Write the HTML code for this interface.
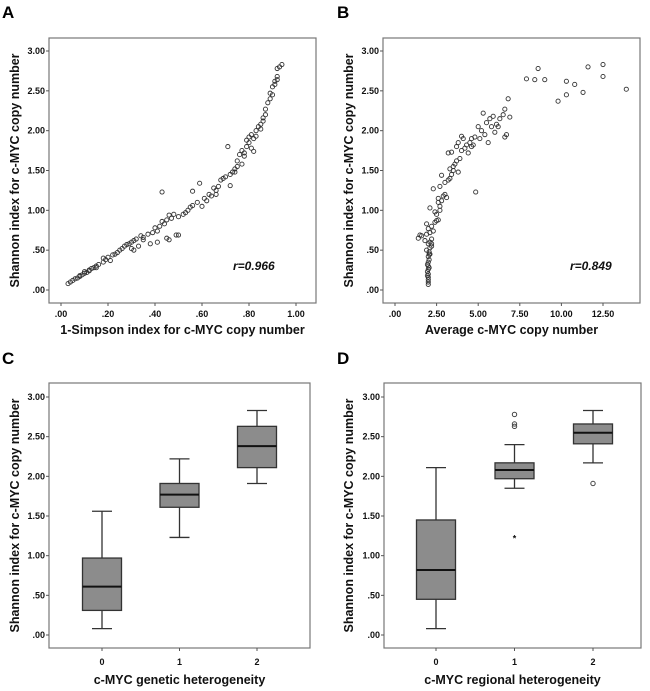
<!DOCTYPE html>
<html><head><meta charset="utf-8">
<style>
html,body{margin:0;padding:0;background:#fff;}
svg{display:block;font-family:"Liberation Sans",Arial,sans-serif;}
.tick{font-size:9px;font-weight:bold;fill:#111;}
.title{font-size:12.5px;font-weight:bold;fill:#111;}
.plab{font-size:17px;font-weight:bold;fill:#000;}
</style></head>
<body>
<svg id="fig" width="650" height="691" viewBox="0 0 650 691" xmlns="http://www.w3.org/2000/svg"></svg>
<script>
const yTicks=[0,0.5,1,1.5,2,2.5,3];
const yTickLabels=[".00",".50","1.00","1.50","2.00","2.50","3.00"];
const aXTicks=[0,0.2,0.4,0.6,0.8,1.0];
const aXTickLabels=[".00",".20",".40",".60",".80","1.00"];
const bXTicks=[0,2.5,5,7.5,10,12.5];
const bXTickLabels=[".00","2.50","5.00","7.50","10.00","12.50"];
const aX=[.03,.04,.05,.06,.07,.08,.09,.10,.10,.11,.12,.13,.14,.15,.16,.18,.19,.20,.18,.21,.23,.24,.25,.26,.27,.28,.29,.30,.31,.32,.30,.31,.33,.34,.35,.37,.38,.40,.41,.42,.43,.44,.45,.46,.47,.48,.45,.46,.41,.49,.50,.43,.50,.52,.54,.55,.56,.58,.59,.56,.60,.61,.62,.63,.64,.65,.66,.67,.68,.69,.70,.71,.72,.72,.73,.74,.75,.75,.76,.77,.77,.78,.79,.79,.80,.80,.81,.81,.82,.83,.83,.84,.85,.85,.86,.86,.87,.87,.88,.89,.89,.90,.90,.91,.91,.92,.92,.92,.93,.94,.82,.78,.74,.66,.53,.39,.35,.22,.15,.12,.08];
const aY=[.08,.10,.12,.14,.15,.17,.19,.21,.23,.22,.25,.27,.28,.30,.32,.35,.38,.41,.40,.37,.45,.47,.50,.52,.55,.57,.58,.60,.62,.64,.52,.50,.55,.68,.66,.70,.58,.78,.74,.80,.86,.83,.88,.94,.90,.95,.65,.63,.60,.69,.69,1.23,.92,.95,1.00,1.04,1.06,1.10,1.34,1.24,1.05,1.15,1.12,1.20,1.18,1.28,1.25,1.30,1.38,1.40,1.42,1.80,1.31,1.45,1.48,1.52,1.55,1.62,1.70,1.58,1.75,1.68,1.80,1.88,1.85,1.92,1.78,1.95,1.90,2.00,1.93,2.05,2.08,2.02,2.12,2.16,2.20,2.27,2.35,2.40,2.47,2.45,2.55,2.58,2.62,2.64,2.68,2.78,2.80,2.83,1.74,1.72,1.48,1.20,.97,.72,.63,.44,.28,.24,.18];
const bX=[2.0,2.0,2.0,2.0,2.0,1.95,2.0,2.05,1.95,2.0,2.05,2.0,2.1,2.05,1.9,2.1,2.2,2.0,2.1,1.8,2.2,1.4,1.6,1.5,1.9,2.1,2.3,2.0,2.2,1.9,2.4,2.5,2.1,2.6,2.5,2.7,2.7,2.3,2.6,2.8,2.9,3.0,2.7,3.1,3.0,3.2,2.8,3.3,3.4,3.2,3.5,3.5,3.6,3.7,3.8,3.9,3.4,3.7,3.8,4.0,4.1,4.2,4.3,4.0,4.4,4.5,4.6,4.8,4.6,4.85,5.0,5.1,5.2,5.3,5.4,5.5,5.6,5.7,5.8,5.9,6.0,6.1,6.2,6.3,6.5,6.6,6.7,6.6,6.8,6.9,7.9,8.4,8.6,9.0,9.8,10.3,10.3,10.8,11.3,11.6,12.5,12.5,13.9,4.7,3.3,2.6,2.4,2.2,2.05,2.0,1.95];
const bY=[.07,.10,.13,.16,.20,.23,.26,.28,.32,.35,.38,.42,.45,.48,.50,.53,.55,.58,.60,.62,.64,.65,.68,.69,.70,.72,.74,.77,.80,.83,.85,.87,1.03,.88,.95,1.00,1.05,1.27,1.10,1.12,1.18,1.20,1.30,1.16,1.35,1.38,1.44,1.40,1.45,1.72,1.50,1.55,1.58,1.62,1.48,1.65,1.73,1.80,1.85,1.75,1.90,1.78,1.82,1.93,1.72,1.85,1.80,1.92,1.90,1.23,2.05,1.90,2.00,2.22,1.95,2.10,1.85,2.15,2.05,2.18,1.98,2.08,2.05,2.15,2.20,1.92,1.95,2.27,2.40,2.17,2.65,2.64,2.78,2.64,2.37,2.45,2.62,2.58,2.48,2.80,2.83,2.68,2.52,1.82,1.52,1.15,.98,.58,.45,.30,.18];
const boxCats=["0","1","2"];
const cMin=[.08,1.23,1.91], cQ1=[.31,1.61,2.11], cMed=[.61,1.77,2.38], cQ3=[.97,1.91,2.63], cMax=[1.56,2.22,2.83];
const dMin=[.08,1.85,2.17], dQ1=[.45,1.97,2.41], dMed=[.82,2.08,2.55], dQ3=[1.45,2.17,2.66], dMax=[2.11,2.40,2.83];
const dOutCat=[1,1,1,2], dOutVal=[2.78,2.66,2.63,1.91];
const dExtCat=[1], dExtVal=[1.23];

const NS="http://www.w3.org/2000/svg";
const svg=document.getElementById('fig');
function mk(tag,attrs,parent){const e=document.createElementNS(NS,tag);for(const k in attrs)e.setAttribute(k,attrs[k]);(parent||svg).appendChild(e);return e;}
function txt(x,y,s,cls,anchor,parent){const t=mk('text',{x:x,y:y,class:cls,'text-anchor':anchor||'middle'},parent);t.textContent=s;return t;}

function panel(p){
  const g=mk('g',{});
  
  
  const lab=txt(p.labX,p.labY,p.label,'plab','start',g);
  
  
  const fr=mk('rect',{x:p.x0,y:p.y0,width:p.x1-p.x0,height:p.y1-p.y0,fill:'#fff',stroke:'#777','stroke-width':1.2},g);
  
  
  const ys=v=>p.yBot-(v/3)*(p.yBot-p.yTop);
  yTicks.forEach((v,i)=>{
    mk('line',{x1:p.x0-3,x2:p.x0,y1:ys(v),y2:ys(v),stroke:'#555'},g);
    const t=txt(p.x0-4,ys(v)+3,yTickLabels[i],'tick','end',g);
    
    
  });
  const yt=txt(0,0,'Shannon index for c-MYC copy number','title','middle',g);
  yt.setAttribute('transform','translate('+p.yTitleX+','+((p.y0+p.y1)/2)+') rotate(-90)');
  
  
  const xt=txt((p.x0+p.x1)/2,p.xTitleY,p.xTitle,'title','middle',g);
  
  
  return {g,ys};
}

function scatter(p,xs,ys_,ticks,tlabels,xmin,xmax,rtext,rx){
  const {g,ys}=panel(p);
  const xs_=v=>p.xL+(v-xmin)/(xmax-xmin)*(p.xR-p.xL);
  ticks.forEach((v,i)=>{
    mk('line',{x1:xs_(v),x2:xs_(v),y1:p.y1,y2:p.y1+3,stroke:'#555'},g);
    const t=txt(xs_(v),p.y1+14,tlabels[i],'tick','middle',g);
    
    
  });
  xs.forEach((v,i)=>{
    const c=mk('circle',{cx:xs_(v),cy:ys(ys_[i]),r:2.1,fill:'none',stroke:'#333','stroke-width':0.9},g);
    
    
  });
  const r=mk('text',{x:rx,y:270,'font-size':12,'font-weight':'bold','font-style':'italic',fill:'#111'},g);
  r.textContent=rtext;
  
  
}

function boxes(p,mn,q1,md,q3,mx,oc,ov,ec,ev){
  const {g,ys}=panel(p);
  const bw=39, cw=20;
  const xc=i=>p.xL+i*(p.xR-p.xL)/2;
  boxCats.forEach((c,i)=>{
    const x=xc(i);
    mk('line',{x1:x,x2:x,y1:p.y1,y2:p.y1+3,stroke:'#555'},g);
    const t=txt(x,p.y1+17,c,'tick','middle',g);
    
    
    const bg=mk('g',{},g);
    
    
    mk('line',{x1:x,x2:x,y1:ys(mx[i]),y2:ys(q3[i]),stroke:'#333','stroke-width':1.3},bg);
    mk('line',{x1:x,x2:x,y1:ys(q1[i]),y2:ys(mn[i]),stroke:'#333','stroke-width':1.3},bg);
    mk('line',{x1:x-cw/2,x2:x+cw/2,y1:ys(mx[i]),y2:ys(mx[i]),stroke:'#333','stroke-width':1.3},bg);
    mk('line',{x1:x-cw/2,x2:x+cw/2,y1:ys(mn[i]),y2:ys(mn[i]),stroke:'#333','stroke-width':1.3},bg);
    mk('rect',{x:x-bw/2,y:ys(q3[i]),width:bw,height:ys(q1[i])-ys(q3[i]),fill:'#8c8c8c',stroke:'#333','stroke-width':1.3},bg);
    mk('line',{x1:x-bw/2,x2:x+bw/2,y1:ys(md[i]),y2:ys(md[i]),stroke:'#111','stroke-width':2},bg);
  });
  (oc||[]).forEach((c,i)=>{
    const o=mk('circle',{cx:xc(c),cy:ys(ov[i]),r:2.2,fill:'none',stroke:'#444','stroke-width':1},g);
    
    
  });
  (ec||[]).forEach((c,i)=>{
    const e=txt(xc(c),ys(ev[i])+4,'*','tick','middle',g);
    
    
  });
}

scatter({name:'panel-a',label:'A',labX:2,labY:18,x0:49,x1:316,y0:38,y1:303,yTop:51,yBot:290,xL:61,xR:296,yTitleX:19,xTitleY:334,xTitle:'1-Simpson index for c-MYC copy number'},aX,aY,aXTicks,aXTickLabels,0,1,'r=0.966',233);
scatter({name:'panel-b',label:'B',labX:337,labY:18,x0:383,x1:640,y0:38,y1:303,yTop:51,yBot:290,xL:395,xR:603,yTitleX:353,xTitleY:334,xTitle:'Average c-MYC copy number'},bX,bY,bXTicks,bXTickLabels,0,12.5,'r=0.849',570);
boxes({name:'panel-c',label:'C',labX:2,labY:364,x0:49,x1:310,y0:383,y1:648,yTop:397,yBot:635,xL:102,xR:257,yTitleX:19,xTitleY:684,xTitle:'c-MYC genetic heterogeneity'},cMin,cQ1,cMed,cQ3,cMax);
boxes({name:'panel-d',label:'D',labX:337,labY:364,x0:384,x1:641,y0:383,y1:648,yTop:397,yBot:635,xL:436,xR:593,yTitleX:353,xTitleY:684,xTitle:'c-MYC regional heterogeneity'},dMin,dQ1,dMed,dQ3,dMax,dOutCat,dOutVal,dExtCat,dExtVal);
</script>
</body></html>
